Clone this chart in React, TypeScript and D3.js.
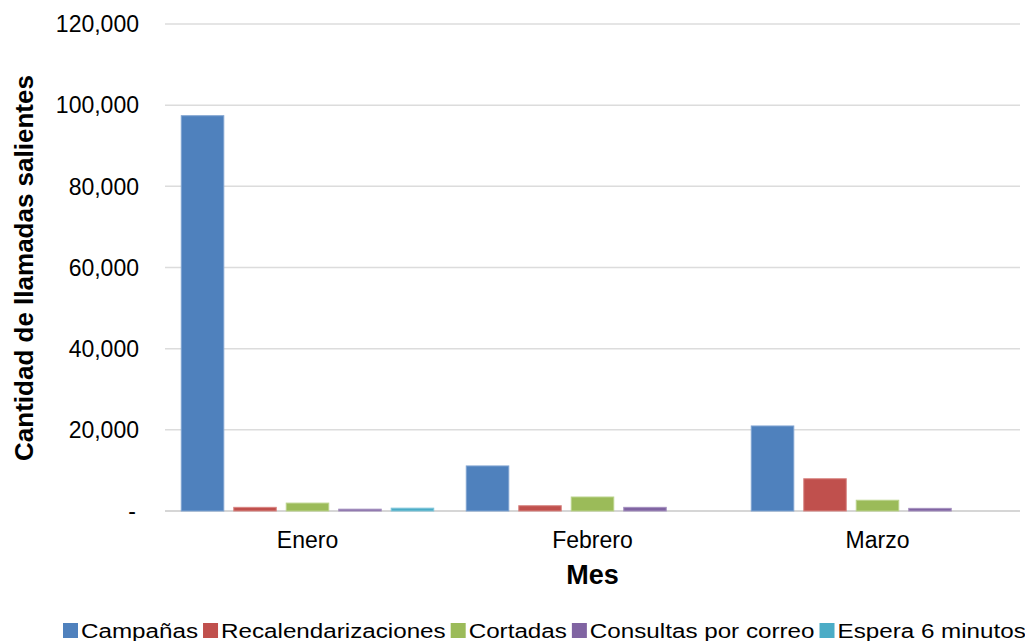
import React from "react";
import * as d3 from "d3";

// Monthly outbound call counts by call type
const months = ["Enero", "Febrero", "Marzo"];
const seriesNames = [
  "Campañas",
  "Recalendarizaciones",
  "Cortadas",
  "Consultas por correo",
  "Espera 6 minutos",
];
const campanas = [97400, 11100, 20950];
const recalendarizaciones = [900, 1300, 7950];
const cortadas = [1950, 3450, 2650];
const consultas = [450, 900, 650];
const espera = [700, 0, 0];
const yTicks = [0, 20000, 40000, 60000, 80000, 100000, 120000];

const seriesValues = [campanas, recalendarizaciones, cortadas, consultas, espera];
const colors = ["#4F81BD", "#C0504D", "#9BBB59", "#8064A2", "#4BACC6"];
const edges = ["#7FA3D1", "#D88683", "#BBD38C", "#A591BF", "#80C6D9"];

const W = 1025;
const H = 641;
const M = { left: 165, right: 1020, top: 24, bottom: 511 };
const FONT = "'Liberation Sans', Arial, sans-serif";

function measure(text: string, font: string): number {
  const c = document.createElement("canvas").getContext("2d");
  if (!c) return text.length * 10;
  c.font = font;
  return c.measureText(text).width;
}

export default function App() {
  const x0 = d3.scaleBand<string>().domain(months).range([M.left, M.right]).padding(0);
  const x1 = d3
    .scaleBand<string>()
    .domain(seriesNames)
    .range([0, x0.bandwidth()])
    .paddingInner(0.19)
    .paddingOuter(0.31);
  const y = d3.scaleLinear().domain([0, 120000]).range([M.bottom, M.top]);
  const fmt = d3.format(",");

  // legend layout
  const legendFont = `20px ${FONT}`;
  const stretch = 1.21;
  let cursor = 63;
  const legendItems = seriesNames.map((name, i) => {
    const w = measure(name, legendFont) * stretch;
    const item = { name, color: colors[i], x: cursor, w };
    cursor += 15 + 3 + w + 5;
    return item;
  });

  return (
    <svg
      width={W}
      height={H}
      style={{ position: "absolute", left: 0, top: 0, background: "#fff" }}
      fontFamily={FONT}
    >
      {/* gridlines */}
      {yTicks.map((t) => (
        <line
          key={"g" + t}
          x1={M.left}
          x2={M.right}
          y1={y(t)}
          y2={y(t)}
          stroke={t === 0 ? "#C8C8C8" : "#DCDCDC"}
          strokeWidth={1.5}
        />
      ))}
      {/* y tick labels */}
      {yTicks.map((t) => (
        <text
          key={"t" + t}
          x={t === 0 ? 136 : 139}
          y={y(t)}
          dy="0.36em"
          textAnchor="end"
          fontSize={23}
          fill="#000"
        >
          {t === 0 ? "-" : fmt(t)}
        </text>
      ))}
      {/* bars */}
      {months.map((m, mi) => (
        <g key={m} transform={`translate(${x0(m)},0)`}>
          {seriesNames.map((s, si) => {
            const v = seriesValues[si][mi];
            if (v <= 0) return null;
            return (
              <rect
                key={s}
                x={x1(s)}
                y={y(v)}
                width={x1.bandwidth()}
                height={y(0) - y(v)}
                fill={colors[si]}
                stroke={edges[si]}
                strokeWidth={1}
              />
            );
          })}
        </g>
      ))}
      {/* x labels */}
      {months.map((m) => (
        <text
          key={"x" + m}
          x={(x0(m) as number) + x0.bandwidth() / 2}
          y={548}
          textAnchor="middle"
          fontSize={23}
          fill="#000"
        >
          {m}
        </text>
      ))}
      <text
        x={(M.left + M.right) / 2}
        y={584}
        textAnchor="middle"
        fontSize={27}
        fontWeight="bold"
        fill="#000"
      >
        Mes
      </text>
      <text
        transform={`translate(33,268) rotate(-90)`}
        textAnchor="middle"
        fontSize={26}
        fontWeight="bold"
        fill="#000"
      >
        Cantidad de llamadas salientes
      </text>
      {/* legend */}
      {legendItems.map((it) => (
        <g key={"l" + it.name}>
          <rect x={it.x} y={623} width={15} height={15} fill={it.color} />
          <text
            x={it.x + 18}
            y={638}
            fontSize={20}
            textLength={it.w}
            lengthAdjust="spacingAndGlyphs"
            fill="#000"
          >
            {it.name}
          </text>
        </g>
      ))}
    </svg>
  );
}
